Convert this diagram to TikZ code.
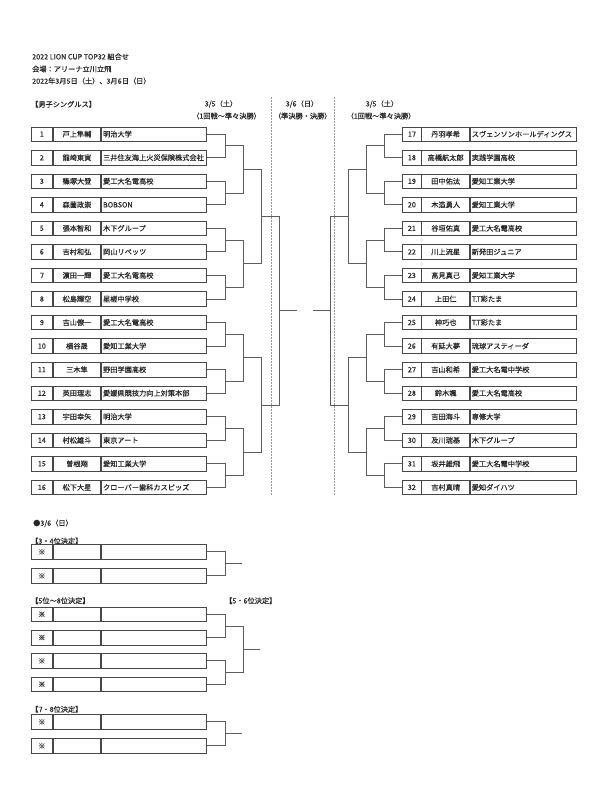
\documentclass[tikz,border=0pt]{standalone}
\usepackage{fontspec}
\setmainfont{Noto Sans CJK JP}[FakeBold=0.2]
\usetikzlibrary{positioning,calc}
\definecolor{inkc}{HTML}{262626}
\definecolor{cellc}{HTML}{484848}
\definecolor{bracketc}{HTML}{5E5E5E}
\definecolor{sepc}{HTML}{9A9A9A}

\begin{document}
\begin{tikzpicture}[
    x=1pt, y=-1pt,
    every node/.style={font=\fontsize{7.2}{8.6}\selectfont, text=inkc},
    cell/.style={draw=cellc, line width=0.75pt, minimum height=14.5pt, inner sep=0pt},
    numcell/.style={cell, minimum width=21pt, anchor=north west},
    namecell/.style={cell, minimum width=47.7pt},
    teamcell/.style={cell, minimum width=105pt, text width=102pt, align=left},
    teamcellr/.style={cell, minimum width=106pt, text width=103pt, align=left},
    headtext/.style={inner sep=0pt, anchor=west},
    dayhead/.style={inner sep=0pt},
    bline/.style={draw=bracketc, line width=0.9pt},
    daysep/.style={draw=sepc, line width=0.6pt, dash pattern=on 1.5pt off 1.5pt}
]
\useasboundingbox (0,0) rectangle (590,808);

% Title
\node[headtext] (title) at (32,56.7) {2022 LION CUP TOP32 組合せ};
\node[headtext] (venue) at (32,69) {会場：アリーナ立川立飛};
\node[headtext] (dates) at (32,81) {2022年3月5日（土）、3月6日（日）};
\node[headtext] (event) at (31,104.3) {【男子シングルス】};

% Day headers
\node[dayhead] (d1a) at (221,104) {3/5（土）};
\node[dayhead] (d1b) at (226.5,116) {（1回戦～準々決勝）};
\node[dayhead] (d2a) at (302,104) {3/6（日）};
\node[dayhead] (d2b) at (302.7,116) {（準決勝・決勝）};
\node[dayhead] (d3a) at (382,104) {3/5（土）};
\node[dayhead] (d3b) at (381,116) {（1回戦～準々決勝）};

\draw[daysep] (271.7,97) -- (271.7,496);
\draw[daysep] (334.3,97) -- (334.3,496);

% Left half: players 1-16
\foreach \i/\nm/\tm in {1/戸上隼輔/明治大学, 2/龍崎東寅/三井住友海上火災保険株式会社,
    3/篠塚大登/愛工大名電高校, 4/森薗政崇/BOBSON, 5/張本智和/木下グループ,
    6/吉村和弘/岡山リベッツ, 7/濵田一輝/愛工大名電高校, 8/松島輝空/星槎中学校,
    9/吉山僚一/愛工大名電高校, 10/横谷晟/愛知工業大学, 11/三木隼/野田学園高校,
    12/英田理志/愛媛県競技力向上対策本部, 13/宇田幸矢/明治大学, 14/村松雄斗/東京アート,
    15/曽根翔/愛知工業大学, 16/松下大星/クローバー歯科カスピッズ} {
  \pgfmathsetmacro\ty{126.5+(\i-1)*23.55}
  \node[numcell] (n\i) at (31,\ty) {\i};
  \node[namecell,right=0pt of n\i] (m\i) {\nm};
  \node[teamcell,right=0pt of m\i] (t\i) {\tm};
}

% Right half: players 17-32
\foreach \i/\nm/\tm in {17/丹羽孝希/スヴェンソンホールディングス, 18/高橋航太郎/実践学園高校,
    19/田中佑汰/愛知工業大学, 20/木造勇人/愛知工業大学, 21/谷垣佑真/愛工大名電高校,
    22/川上流星/新発田ジュニア, 23/髙見真己/愛知工業大学, 24/上田仁/T.T彩たま,
    25/神巧也/T.T彩たま, 26/有延大夢/琉球アスティーダ, 27/吉山和希/愛工大名電中学校,
    28/鈴木颯/愛工大名電高校, 29/吉田海斗/専修大学, 30/及川瑞基/木下グループ,
    31/坂井雄飛/愛工大名電中学校, 32/吉村真晴/愛知ダイハツ} {
  \pgfmathsetmacro\ty{126.5+(\i-17)*23.55}
  \node[numcell,minimum width=18.4pt] (n\i) at (402.3,\ty) {\i};
  \node[namecell,right=0pt of n\i] (m\i) {\nm};
  \node[teamcellr,right=0pt of m\i] (t\i) {\tm};
}

% Left bracket
\foreach \k in {1,...,8} {
  \pgfmathtruncatemacro\a{2*\k-1}
  \pgfmathtruncatemacro\b{2*\k}
  \coordinate (L1-\k) at ($(t\a.east)!.5!(t\b.east)+(18,0)$);
  \draw[bline] (t\a.east) -| (L1-\k) |- (t\b.east);
}
\foreach \k in {1,...,4} {
  \pgfmathtruncatemacro\a{2*\k-1}
  \pgfmathtruncatemacro\b{2*\k}
  \coordinate (L2-\k) at ($(L1-\a)!.5!(L1-\b)+(18,0)$);
  \draw[bline] (L1-\a) -| (L2-\k) |- (L1-\b);
}
\foreach \k in {1,2} {
  \pgfmathtruncatemacro\a{2*\k-1}
  \pgfmathtruncatemacro\b{2*\k}
  \coordinate (L3-\k) at ($(L2-\a)!.5!(L2-\b)+(18,0)$);
  \draw[bline] (L2-\a) -| (L3-\k) |- (L2-\b);
}
\coordinate (L4) at ($(L3-1)!.5!(L3-2)+(18,0)$);
\draw[bline] (L3-1) -| (L4) |- (L3-2);
\coordinate (LF) at ($(L4)+(18,0)$);
\draw[bline] (L4) -- (LF);

% Right bracket
\foreach \k in {1,...,8} {
  \pgfmathtruncatemacro\a{2*\k+15}
  \pgfmathtruncatemacro\b{2*\k+16}
  \coordinate (R1-\k) at ($(n\a.west)!.5!(n\b.west)+(-18,0)$);
  \draw[bline] (n\a.west) -| (R1-\k) |- (n\b.west);
}
\foreach \k in {1,...,4} {
  \pgfmathtruncatemacro\a{2*\k-1}
  \pgfmathtruncatemacro\b{2*\k}
  \coordinate (R2-\k) at ($(R1-\a)!.5!(R1-\b)+(-18,0)$);
  \draw[bline] (R1-\a) -| (R2-\k) |- (R1-\b);
}
\foreach \k in {1,2} {
  \pgfmathtruncatemacro\a{2*\k-1}
  \pgfmathtruncatemacro\b{2*\k}
  \coordinate (R3-\k) at ($(R2-\a)!.5!(R2-\b)+(-18,0)$);
  \draw[bline] (R2-\a) -| (R3-\k) |- (R2-\b);
}
\coordinate (R4) at ($(R3-1)!.5!(R3-2)+(-18,0)$);
\draw[bline] (R3-1) -| (R4) |- (R3-2);
\coordinate (RF) at ($(R4)+(-17.6,0)$);
\draw[bline] (R4) -- (RF);

% Placement matches on 3/6
\node[headtext] (day2) at (33,523.3) {●3/6（日）};
\node[headtext] (p34) at (31,541) {【3・4位決定】};
\node[headtext] (p58) at (31,600.7) {【5位～8位決定】};
\node[headtext] (p56) at (225,600.7) {【5・6位決定】};
\node[headtext] (p78) at (31,709.3) {【7・8位決定】};

\foreach \i/\ty in {a1/544.3, a2/568.3, b1/606.7, b2/630, b3/653.3, b4/676.7, c1/714.3, c2/738.3} {
  \node[numcell] (\i-n) at (31,\ty) {※};
  \node[namecell,right=0pt of \i-n] (\i-m) {};
  \node[teamcell,right=0pt of \i-m] (\i-t) {};
}

% 3-4
\coordinate (A1) at ($(a1-t.east)!.5!(a2-t.east)+(18,0)$);
\draw[bline] (a1-t.east) -| (A1) |- (a2-t.east);
\coordinate (AF) at ($(A1)+(17.5,0)$);
\draw[bline] (A1) -- (AF);

% 5-8 and 5-6
\coordinate (B1) at ($(b1-t.east)!.5!(b2-t.east)+(18,0)$);
\draw[bline] (b1-t.east) -| (B1) |- (b2-t.east);
\coordinate (B2) at ($(b3-t.east)!.5!(b4-t.east)+(18,0)$);
\draw[bline] (b3-t.east) -| (B2) |- (b4-t.east);
\coordinate (B3) at ($(B1)!.5!(B2)+(18,0)$);
\draw[bline] (B1) -| (B3) |- (B2);
\coordinate (BF) at ($(B3)+(17.5,0)$);
\draw[bline] (B3) -- (BF);

% 7-8
\coordinate (C1) at ($(c1-t.east)!.5!(c2-t.east)+(18,0)$);
\draw[bline] (c1-t.east) -| (C1) |- (c2-t.east);
\coordinate (CF) at ($(C1)+(17.5,0)$);
\draw[bline] (C1) -- (CF);

\end{tikzpicture}
\end{document}
